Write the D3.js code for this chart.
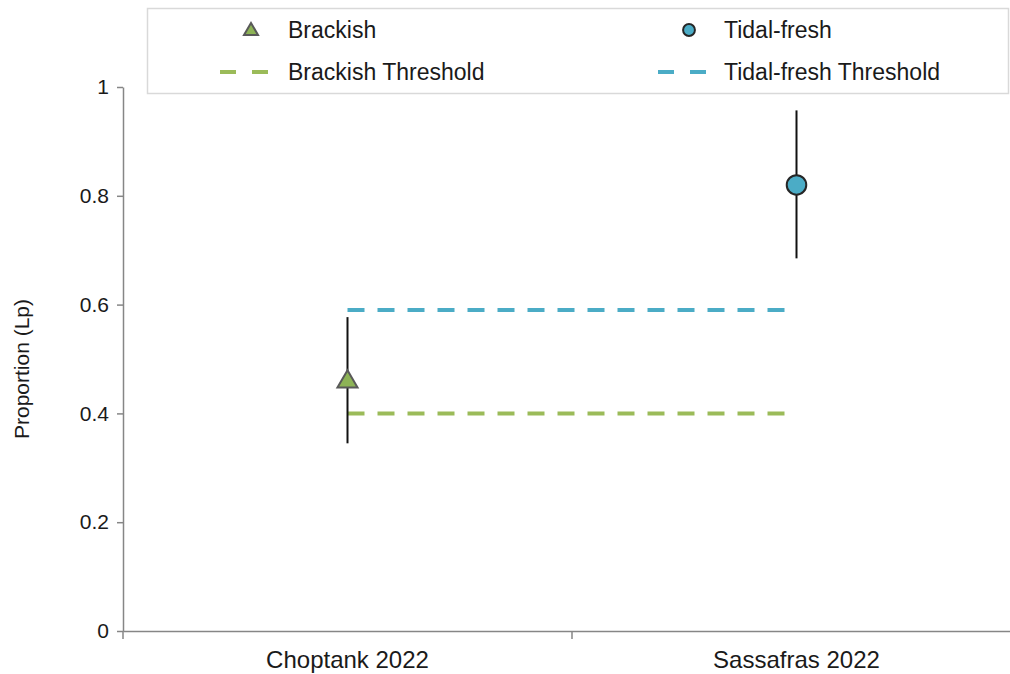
<!DOCTYPE html>
<html>
<head>
<meta charset="utf-8">
<script src="https://cdn.jsdelivr.net/npm/d3@7"></script>
<style>
  html, body { margin: 0; padding: 0; background: #fff; }
  svg { display: block; font-family: "Liberation Sans", Arial, sans-serif; }
</style>
</head>
<body>
<svg id="chart" width="1010" height="674"></svg>
<script>
// Survey sites (x categories) and the habitat group sampled at each
const sites = ["Choptank 2022", "Sassafras 2022"];
const groups = ["Brackish", "Tidal-fresh"];
// Estimated proportion with lower / upper interval bounds
const estimates = [0.46, 0.82];
const lower = [0.345, 0.685];
const upper = [0.577, 0.957];
// Threshold for each habitat group
const thresholds = [0.40, 0.59];
const thresholdNames = ["Brackish Threshold", "Tidal-fresh Threshold"];
const yTicks = [0, 0.2, 0.4, 0.6, 0.8, 1];

const colors = { "Brackish": "#9BBB59", "Tidal-fresh": "#4BACC6" };
const markerFill = { "Brackish": "#8DB356", "Tidal-fresh": "#4BACC6" };
const markerStroke = { "Brackish": "#595959", "Tidal-fresh": "#262626" };

const svg = d3.select("#chart");
const axisColor = "#868686";
const fontFam = "'Liberation Sans', Arial, sans-serif";

const x = d3.scaleBand().domain(sites).range([123, 1021]).padding(0);
const y = d3.scaleLinear().domain([0, 1]).range([631, 87]);
const cx = d => x(d) + x.bandwidth() / 2;

// Y axis
const yAxis = svg.append("g").attr("transform", "translate(123,0)")
  .call(d3.axisLeft(y).tickValues(yTicks).tickFormat(d3.format("")).tickSizeOuter(0).tickSizeInner(6).tickPadding(8));
yAxis.select(".domain").attr("stroke", axisColor).attr("stroke-width", 1.5);
yAxis.selectAll(".tick line").attr("stroke", axisColor).attr("stroke-width", 1.5);
yAxis.selectAll(".tick text").attr("font-size", 21).attr("fill", "#1a1a1a")
  .attr("font-family", fontFam);

// X axis: tick marks sit on the category boundaries
const xAxis = svg.append("g").attr("transform", "translate(0,631)")
  .call(d3.axisBottom(x).tickSize(0).tickPadding(20));
xAxis.select(".domain").attr("stroke", axisColor).attr("stroke-width", 1.5);
xAxis.selectAll(".tick text").attr("font-size", 24).attr("fill", "#1a1a1a")
  .attr("font-family", fontFam);
const bounds = sites.map(s => x(s)).concat([x(sites[sites.length - 1]) + x.bandwidth()]);
svg.append("g").selectAll("line").data(bounds).join("line")
  .attr("x1", d => d).attr("x2", d => d)
  .attr("y1", 631).attr("y2", 639)
  .attr("stroke", axisColor).attr("stroke-width", 1.5);

// Y axis title
svg.append("text")
  .attr("transform", `translate(29,${y(0.5) + 10}) rotate(-90)`)
  .attr("text-anchor", "middle")
  .attr("font-size", 21).attr("fill", "#1a1a1a")
  .attr("font-family", fontFam)
  .text("Proportion (Lp)");

// Threshold lines run from the first to the last site
thresholds.forEach((t, i) => {
  svg.append("line")
    .attr("x1", cx(sites[0])).attr("x2", cx(sites[sites.length - 1]))
    .attr("y1", y(t)).attr("y2", y(t))
    .attr("stroke", colors[groups[i]]).attr("stroke-width", 4)
    .attr("stroke-dasharray", "17,13");
});

// Interval bars
svg.append("g").selectAll("line").data(sites).join("line")
  .attr("x1", d => cx(d)).attr("x2", d => cx(d))
  .attr("y1", (d, i) => y(lower[i])).attr("y2", (d, i) => y(upper[i]))
  .attr("stroke", "#111").attr("stroke-width", 2);

// Point markers
const tri = d3.symbol().type(d3.symbolTriangle).size(175);
const circ = d3.symbol().type(d3.symbolCircle).size(300);
sites.forEach((s, i) => {
  const g = groups[i];
  svg.append("path")
    .attr("d", g === "Brackish" ? tri() : circ())
    .attr("transform", `translate(${cx(s)},${y(estimates[i]) + (g === "Brackish" ? 1 : 0)})`)
    .attr("fill", markerFill[g]).attr("stroke", markerStroke[g]).attr("stroke-width", 2);
});

// Legend
svg.append("rect").attr("x", 147.5).attr("y", 8.5).attr("width", 861).attr("height", 85)
  .attr("fill", "#fff").attr("stroke", "#d9d9d9").attr("stroke-width", 1.5);
const legendCols = [220, 658];
const textX = [288, 724];
groups.forEach((g, i) => {
  const lx = legendCols[i];
  svg.append("path")
    .attr("d", g === "Brackish" ? d3.symbol().type(d3.symbolTriangle).size(85)() : d3.symbol().type(d3.symbolCircle).size(110)())
    .attr("transform", `translate(${lx + 31},${g === "Brackish" ? 31 : 30})`)
    .attr("fill", markerFill[g]).attr("stroke", markerStroke[g]).attr("stroke-width", 2);
  svg.append("text").attr("x", textX[i]).attr("y", 30).attr("dy", "0.35em")
    .attr("font-size", 23).attr("fill", "#1a1a1a").attr("font-family", fontFam).text(g);
  svg.append("line").attr("x1", lx).attr("x2", lx + 48).attr("y1", 72).attr("y2", 72)
    .attr("stroke", colors[g]).attr("stroke-width", 4).attr("stroke-dasharray", "16,16");
  svg.append("text").attr("x", textX[i]).attr("y", 72).attr("dy", "0.35em")
    .attr("font-size", 23).attr("fill", "#1a1a1a").attr("font-family", fontFam).text(thresholdNames[i]);
});
</script>
</body>
</html>
